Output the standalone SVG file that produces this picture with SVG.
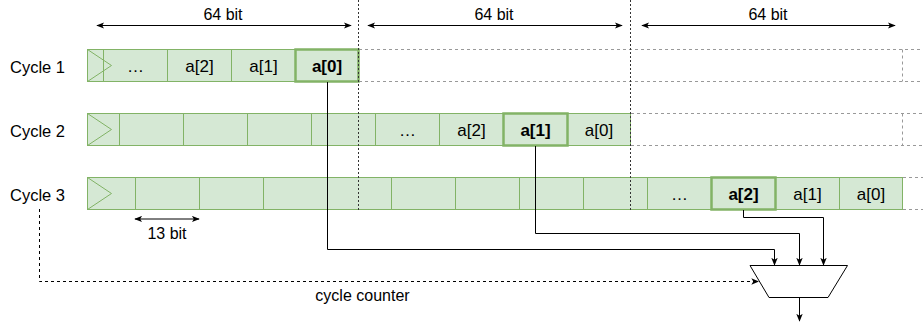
<svg xmlns="http://www.w3.org/2000/svg" width="923" height="326" viewBox="0 0 923 326">
<defs>
<style>
text{font-family:"Liberation Sans",Arial,Helvetica,sans-serif;font-size:16px;fill:#000}
.c{text-anchor:middle}
.b{font-weight:bold}
.lbl{font-size:16.5px}
.v{font-size:17px}
.cell{fill:#d5e8d4;stroke:#82b366;stroke-width:1}
.bold{fill:#d5e8d4;stroke:#82b366;stroke-width:2.5}
.clk{fill:none;stroke:#82b366;stroke-width:1}
.ghost{fill:none;stroke:#999;stroke-width:1;stroke-dasharray:3 3}
.div{fill:none;stroke:#333;stroke-width:1;stroke-dasharray:2 2}
.wire{fill:none;stroke:#000;stroke-width:1}
.dim{fill:none;stroke:#000;stroke-width:1}
.cnt{fill:none;stroke:#000;stroke-width:1;stroke-dasharray:3 3}
</style>
<marker id="ah" viewBox="0 0 10 8" refX="9" refY="4" markerWidth="8" markerHeight="7" markerUnits="userSpaceOnUse" orient="auto-start-reverse">
<path d="M0,0 L10,4 L0,8 L2.5,4 z" fill="#000"/>
</marker>
</defs>

<g id="dimensions">
<line class="dim" x1="97" y1="25.5" x2="351" y2="25.5" marker-start="url(#ah)" marker-end="url(#ah)"/>
<text class="c" x="223" y="19.5">64 bit</text>
<line class="dim" x1="368" y1="25.5" x2="622" y2="25.5" marker-start="url(#ah)" marker-end="url(#ah)"/>
<text class="c" x="494" y="19.5">64 bit</text>
<line class="dim" x1="642" y1="25.5" x2="895" y2="25.5" marker-start="url(#ah)" marker-end="url(#ah)"/>
<text class="c" x="768" y="19.5">64 bit</text>
<line class="dim" x1="135" y1="219" x2="199" y2="219" marker-start="url(#ah)" marker-end="url(#ah)"/>
<text class="c" x="167" y="239">13 bit</text>
</g>

<g id="ghosts">
<path class="ghost" d="M359,49.5 H923 M359,81.5 H923 M902.5,49.5 V81.5"/>
<path class="ghost" d="M631,113.5 H923 M631,145.5 H923 M902.5,113.5 V145.5"/>
<path class="ghost" d="M903,177.5 H923 M903,209.5 H923"/>
</g>

<g id="row1">
<text class="lbl" x="10" y="72.5">Cycle 1</text>
<rect class="cell" x="87.5" y="49.5" width="16" height="32"/>
<rect class="cell" x="103.5" y="49.5" width="64" height="32"/>
<rect class="cell" x="167.5" y="49.5" width="64" height="32"/>
<rect class="cell" x="231.5" y="49.5" width="64" height="32"/>
<path class="clk" d="M87.5,49.5 L111.5,65.5 L87.5,81.5"/>
<text class="c v" x="135.5" y="72">…</text>
<text class="c v" x="199.5" y="72">a[2]</text>
<text class="c v" x="263.5" y="72">a[1]</text>
</g>
<g id="row1_a0">
<rect class="bold" x="295.5" y="49.5" width="63" height="32"/>
<text class="c b v" x="327" y="72">a[0]</text>
</g>

<g id="row2">
<text class="lbl" x="10" y="136.5">Cycle 2</text>
<rect class="cell" x="87.5" y="113.5" width="32" height="32"/>
<rect class="cell" x="119.5" y="113.5" width="64" height="32"/>
<rect class="cell" x="183.5" y="113.5" width="64" height="32"/>
<rect class="cell" x="247.5" y="113.5" width="64" height="32"/>
<rect class="cell" x="311.5" y="113.5" width="64" height="32"/>
<rect class="cell" x="375.5" y="113.5" width="64" height="32"/>
<rect class="cell" x="439.5" y="113.5" width="64" height="32"/>
<rect class="cell" x="567.5" y="113.5" width="63" height="32"/>
<path class="clk" d="M87.5,113.5 L111.5,129.5 L87.5,145.5"/>
<text class="c v" x="407.5" y="136">…</text>
<text class="c v" x="471.5" y="136">a[2]</text>
<text class="c v" x="599" y="136">a[0]</text>
</g>
<g id="row2_a1">
<rect class="bold" x="503.5" y="113.5" width="64" height="32"/>
<text class="c b v" x="535.5" y="136">a[1]</text>
</g>

<g id="row3">
<text class="lbl" x="10" y="200.5">Cycle 3</text>
<rect class="cell" x="87.5" y="177.5" width="48" height="32"/>
<rect class="cell" x="135.5" y="177.5" width="64" height="32"/>
<rect class="cell" x="199.5" y="177.5" width="64" height="32"/>
<rect class="cell" x="263.5" y="177.5" width="64" height="32"/>
<rect class="cell" x="327.5" y="177.5" width="64" height="32"/>
<rect class="cell" x="391.5" y="177.5" width="64" height="32"/>
<rect class="cell" x="455.5" y="177.5" width="64" height="32"/>
<rect class="cell" x="519.5" y="177.5" width="64" height="32"/>
<rect class="cell" x="583.5" y="177.5" width="64" height="32"/>
<rect class="cell" x="647.5" y="177.5" width="64" height="32"/>
<rect class="cell" x="775.5" y="177.5" width="64" height="32"/>
<rect class="cell" x="839.5" y="177.5" width="63" height="32"/>
<path class="clk" d="M87.5,177.5 L111.5,193.5 L87.5,209.5"/>
<text class="c v" x="679.5" y="200">…</text>
<text class="c v" x="807.5" y="200">a[1]</text>
<text class="c v" x="871" y="200">a[0]</text>
</g>
<g id="row3_a2">
<rect class="bold" x="711.5" y="177.5" width="64" height="32"/>
<text class="c b v" x="743.5" y="200">a[2]</text>
</g>

<g id="dividers">
<line class="div" x1="358.5" y1="0" x2="358.5" y2="210"/>
<line class="div" x1="630.5" y1="0" x2="630.5" y2="210"/>
</g>

<g id="mux">
<polygon points="750,265.5 847.5,265.5 828,297.5 769,297.5" fill="#fff" stroke="#000" stroke-width="1"/>
</g>

<g id="connectors">
<path class="wire" d="M327.5,82 V249.5 H774.5 V265" marker-end="url(#ah)"/>
<path class="wire" d="M535.5,146 V233.5 H799.5 V265" marker-end="url(#ah)"/>
<path class="wire" d="M743.5,210 V217.5 H823.5 V265" marker-end="url(#ah)"/>
<path class="wire" d="M799.5,297.5 V321" marker-end="url(#ah)"/>
<path class="cnt" d="M39.5,209 V281.5 H758.5" marker-end="url(#ah)"/>
<text class="c" x="362.5" y="300.5">cycle counter</text>
</g>
</svg>
